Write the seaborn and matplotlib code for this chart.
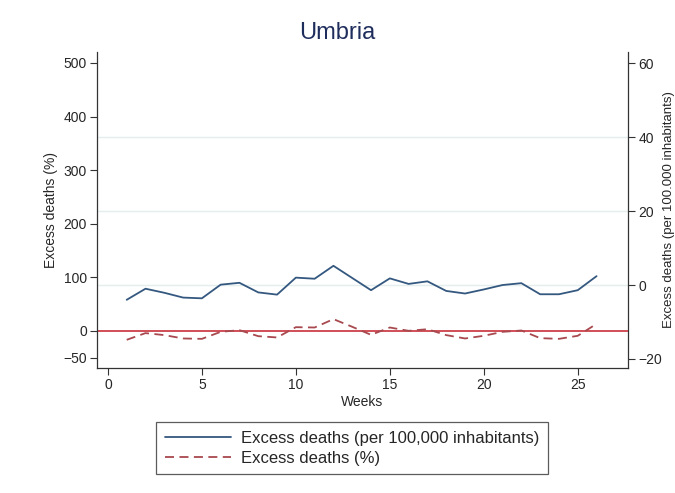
import matplotlib
matplotlib.use("Agg")
import matplotlib.pyplot as plt
import seaborn as sns
import numpy as np
import pandas as pd

# Weekly excess mortality, Umbria
weeks = list(range(1, 27))
per_100k = [-4.0, -1.0, -2.1, -3.4, -3.6, 0.1, 0.6, -2.0, -2.6, 2.0, 1.7, 5.2, 1.9,
            -1.4, 1.8, 0.3, 1.0, -1.6, -2.3, -1.2, 0.0, 0.5, -2.5, -2.5, -1.4, 2.4]
pct = [-16.8, -4.3, -8.0, -14.3, -15.0, -1.9, 1.2, -10.0, -12.4, 6.8, 6.2, 21.8, 7.5,
       -7.5, 6.2, 0.0, 3.0, -8.0, -14.3, -9.3, -1.9, 0.6, -13.7, -15.0, -9.3, 13.0]

data = pd.DataFrame({'week': weeks, 'per_100k': per_100k, 'pct': pct})

sns.set_theme(style="white")
plt.rcParams['font.family'] = ['Liberation Sans', 'DejaVu Sans']

navy = '#34587f'
maroon = '#a8494f'
red = '#c8303a'

fig, ax1 = plt.subplots(figsize=(6.75, 4.93), dpi=100)
fig.subplots_adjust(left=0.144, right=0.930, top=0.894, bottom=0.254)
ax2 = ax1.twinx()
# keep the left axis (and its spine) above the right-axis gridlines
ax1.set_zorder(2)
ax1.patch.set_visible(False)

# left axis: percentage (dashed)
sns.lineplot(data=data, x='week', y='pct', ax=ax1, color=maroon, linewidth=1.3,
             linestyle=(0, (5, 3)), label='Excess deaths (%)', legend=False)
ax1.axhline(0, color=red, linewidth=1.2, zorder=1)
ax1.set_ylim(-69, 520)
ax1.set_yticks([-50, 0, 100, 200, 300, 400, 500])
ax1.set_ylabel('Excess deaths (%)', fontsize=10)

# right axis: per 100,000 (solid)
sns.lineplot(data=data, x='week', y='per_100k', ax=ax2, color=navy, linewidth=1.3,
             label='Excess deaths (per 100,000 inhabitants)', legend=False)
ax2.set_ylim(-22.4, 63)
right_ticks = [-20, 0, 20, 40, 60]
ax2.set_yticks(right_ticks)
for t in right_ticks[1:-1]:
    ax2.axhline(t, color='#e4eeef', linewidth=1.0, zorder=0)
ax2.set_ylabel('Excess deaths (per 100.000 inhabitants)', fontsize=9.5, labelpad=1)

ax1.set_xlim(-0.57, 27.66)
ax1.set_xticks([0, 5, 10, 15, 20, 25])
ax1.set_xlabel('Weeks', fontsize=10, labelpad=2)

for ax in (ax1, ax2):
    ax.tick_params(axis='both', direction='out', length=5, width=0.8, color='#333333',
                   labelsize=10, pad=2.5, left=(ax is ax1), bottom=(ax is ax1), right=(ax is ax2))
    ax.spines['top'].set_visible(False)
    for s in ('left', 'right', 'bottom'):
        ax.spines[s].set_color('#333333')
        ax.spines[s].set_linewidth(0.9)
ax1.spines['right'].set_visible(False)
ax2.spines['left'].set_visible(False)
ax2.spines['bottom'].set_visible(False)

fig.suptitle('Umbria', fontsize=17, color='#1f2d5c', y=0.955)

h2, l2 = ax2.get_legend_handles_labels()
h1, l1 = ax1.get_legend_handles_labels()
leg = fig.legend(h2 + h1, l2 + l1, loc='center', bbox_to_anchor=(0.522, 0.091),
                 fontsize=12, frameon=True, fancybox=False, edgecolor='#333333',
                 handlelength=4.0, handletextpad=0.6, borderpad=0.5, labelspacing=0.3)
leg.get_frame().set_linewidth(0.9)

plt.savefig('out.png', dpi=100)
